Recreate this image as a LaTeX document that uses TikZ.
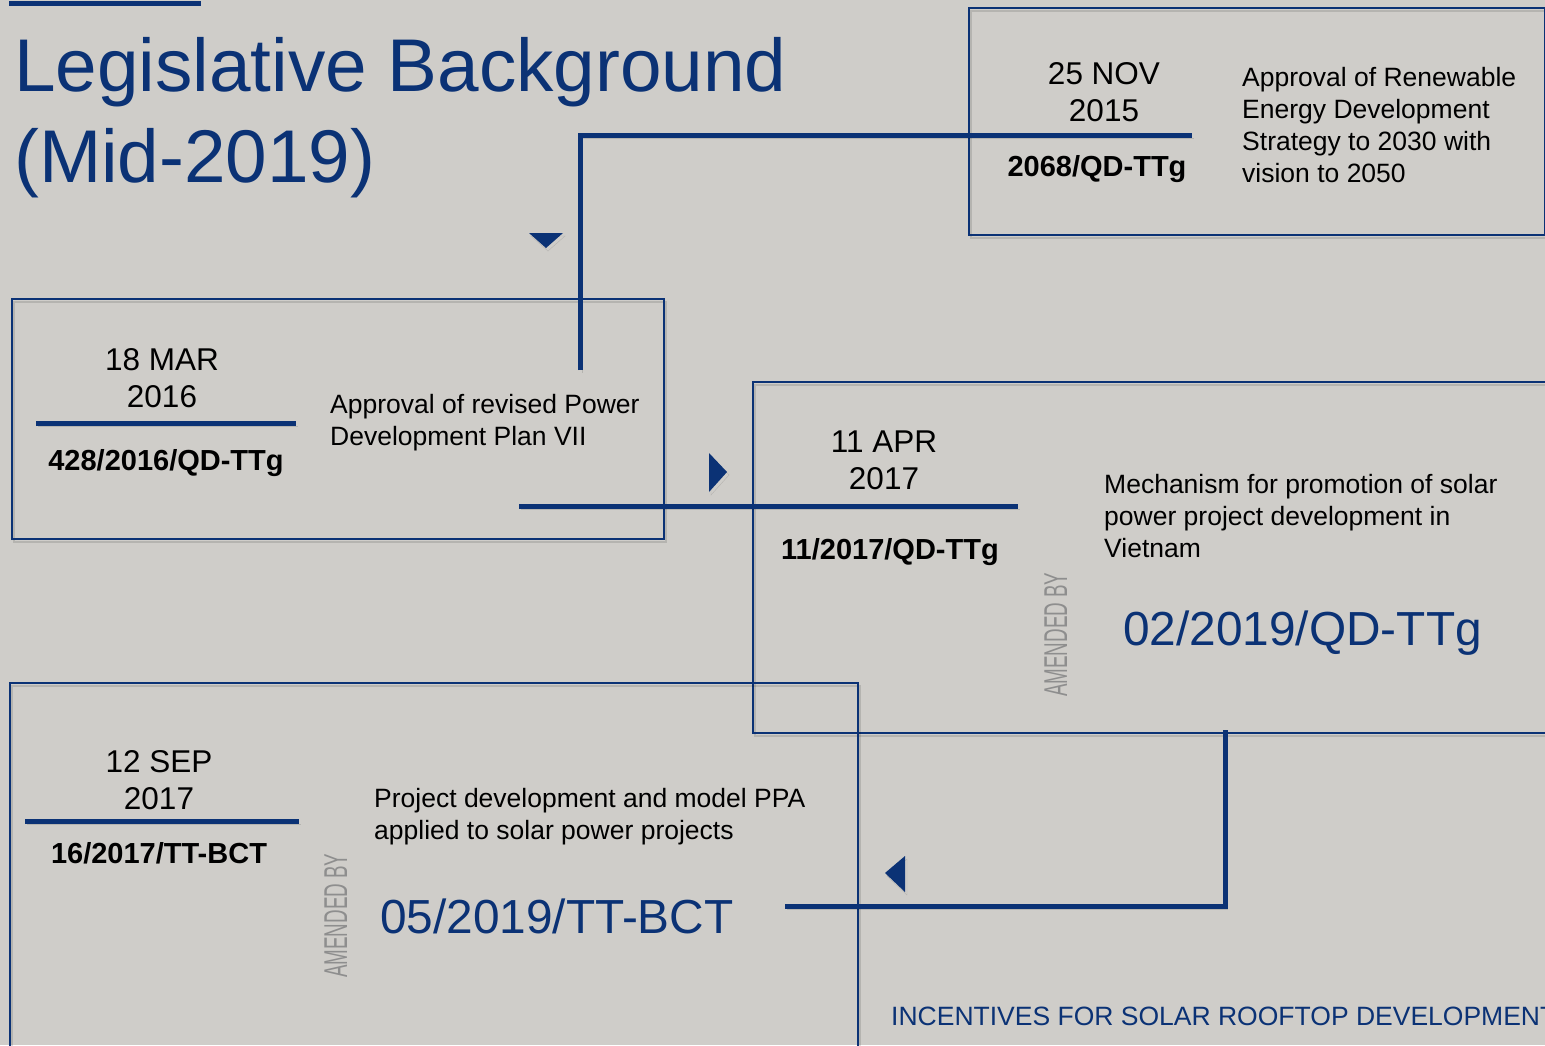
\documentclass[tikz,border=0pt]{standalone}
\usepackage{fontspec}
\usepackage{graphicx}
\setmainfont{Liberation Sans}
\definecolor{navy}{HTML}{0B3275}
\definecolor{bgc}{HTML}{CFCDC9}
\definecolor{amend}{HTML}{8E8E8E}
\newcommand\fs[2]{\fontsize{#1}{#2}\selectfont}
\newcommand\mkc[1]{\hbox to 0pt{\hss #1\hss}}
\begin{document}
\begin{tikzpicture}[x=1pt,y={(0pt,-1pt)},
  shd/.style={preaction={draw=black,opacity=0.12,transform canvas={xshift=2pt,yshift=-3pt}}},
  box/.style={draw=navy,line width=1.8pt,inner sep=0pt,anchor=north west,shd},
  conn/.style={draw=navy,line width=5pt,shd},
  tri/.style={fill=navy,draw=none},
  datetxt/.style={inner sep=0pt,anchor=base,font=\fs{31.5}{37}},
  codetxt/.style={inner sep=0pt,anchor=base,font=\fs{29}{35}\bfseries},
  desc/.style={inner sep=0pt,anchor=base west,font=\fs{26.5}{32}},
  bigcode/.style={inner sep=0pt,anchor=base west,font=\fs{47.8}{56},text=navy},
  amendtxt/.style={inner sep=0pt,anchor=base west,rotate=90,font=\fs{33}{40},text=amend},
]
\useasboundingbox (0,0) rectangle (1545,1045);
\clip (0,0) rectangle (1545,1045);
\fill[bgc] (0,0) rectangle (1545,1045);

% top decorative line
\coordinate (tl1) at (9,3.5);
\coordinate (tl2) at (201,3.5);
\draw[navy,line width=4.3pt] (tl1) -- (tl2);

% title
\node[inner sep=0pt,anchor=base west,font=\fs{74.7}{91},text=navy] (title) at (14,91)
  {\vtop{\hbox{Legislative Background}\hbox{(Mid-2019)}}};

% boxes
\node[box,minimum width=576pt,minimum height=227pt] (box1) at (968,7) {};
\node[box,minimum width=652pt,minimum height=240pt] (box2) at (11,298) {};
\node[box,minimum width=800pt,minimum height=351pt] (box3) at (752,381) {};
\node[box,minimum width=848pt,minimum height=400pt] (box4) at (9,682) {};

% connectors
\coordinate (c1a) at (580,370);
\coordinate (c1b) at (1192,135);
\draw[conn] (c1a) |- (c1b);
\coordinate (c2a) at (519,506);
\coordinate (c2b) at (1018,506);
\draw[conn] (c2a) -- (c2b);
\coordinate (c3a) at (1225,730);
\coordinate (c3b) at (785,906);
\draw[conn] (c3a) |- (c3b);
\coordinate (u2a) at (36,423);
\coordinate (u2b) at (296,423);
\draw[conn] (u2a) -- (u2b);
\coordinate (u4a) at (25,821);
\coordinate (u4b) at (299,821);
\draw[conn] (u4a) -- (u4b);

% triangles
\fill[tri,shd] (529,233) -- (563,233) -- (546,248) -- cycle;
\fill[tri,shd] (709,453) -- (727,472) -- (709,492) -- cycle;
\fill[tri,shd] (905,856) -- (885,873) -- (905,892) -- cycle;

% box 1
\node[datetxt] (d1) at (1104,84) {\vtop{\mkc{25 NOV}\mkc{2015}}};
\node[codetxt] (k1) at (1097,176) {2068/QD-TTg};
\node[desc] (t1) at (1242,86) {\vtop{\hbox{Approval of Renewable}\hbox{Energy Development}\hbox{Strategy to 2030 with}\hbox{vision to 2050}}};

% box 2
\node[datetxt] (d2) at (162,370) {\vtop{\mkc{18 MAR}\mkc{2016}}};
\node[codetxt] (k2) at (166,470) {428/2016/QD-TTg};
\node[desc] (t2) at (330,413) {\vtop{\hbox{Approval of revised Power}\hbox{Development Plan VII}}};

% box 3
\node[datetxt] (d3) at (884,452) {\vtop{\mkc{11 APR}\mkc{2017}}};
\node[codetxt] (k3) at (890,559) {11/2017/QD-TTg};
\node[desc] (t3) at (1104,493) {\vtop{\hbox{Mechanism for promotion of solar}\hbox{power project development in}\hbox{Vietnam}}};
\node[amendtxt] (a3) at (1067,697) {\scalebox{0.57}[1]{AMENDED BY}};
\node[bigcode] (b3) at (1123,645) {02/2019/QD-TTg};

% box 4
\node[datetxt] (d4) at (159,772) {\vtop{\mkc{12 SEP}\mkc{2017}}};
\node[codetxt] (k4) at (159,863) {16/2017/TT-BCT};
\node[desc] (t4) at (374,807) {\vtop{\hbox{Project development and model PPA}\hbox{applied to solar power projects}}};
\node[amendtxt] (a4) at (347,978) {\scalebox{0.57}[1]{AMENDED BY}};
\node[bigcode] (b4) at (380,933) {05/2019/TT-BCT};

% footer (cut off at the right edge, as in the reference)
\node[inner sep=0pt,anchor=base west,font=\fs{26.5}{32},text=navy] (foot) at (891,1025) {INCENTIVES FOR SOLAR ROOFTOP DEVELOPMENT};
\end{tikzpicture}
\end{document}
